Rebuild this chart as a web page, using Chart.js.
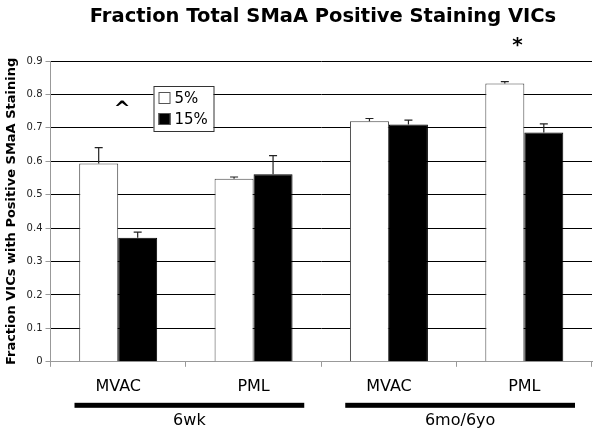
<!DOCTYPE html>
<html>
<head>
<meta charset="utf-8">
<script src="https://cdn.jsdelivr.net/npm/chart.js@4/dist/chart.umd.min.js"></script>
<style>
  html, body { margin: 0; padding: 0; background: #fff; }
  #wrap { width: 600px; height: 437px; }
</style>
</head>
<body>
<div id="wrap"><canvas id="myChart" width="600" height="437"></canvas></div>
<script>
// data
var categories = ['MVAC', 'PML', 'MVAC', 'PML'];
var low = [0.593, 0.548, 0.720, 0.833];      // 5%
var lowErr = [0.048, 0.005, 0.008, 0.005];
var high = [0.371, 0.561, 0.710, 0.686];     // 15%
var highErr = [0.017, 0.056, 0.013, 0.026];
var seriesNames = ['5%', '15%'];
var yTicks = [0, 0.1, 0.2, 0.3, 0.4, 0.5, 0.6, 0.7, 0.8, 0.9];
var groups = [
    { label: '6wk', from: 0, to: 1 },
    { label: '6mo/6yo', from: 2, to: 3 }
];
var marks = [
    { cat: 0.03, value: 0.755, text: '^' },
    { cat: 2.95, value: 0.945, text: '*' }
];
var chartTitle = 'Fraction Total SMaA Positive Staining VICs';
var yTitle = 'Fraction VICs with Positive SMaA Staining';

var FONT = '"DejaVu Sans", Verdana, sans-serif';

// error bars, legend, title, group bars underneath
var extras = {
    id: 'extras',
    afterDatasetsDraw: function(chart) {
        var ctx = chart.ctx;
        var y = chart.scales.y;
        var x = chart.scales.x;
        var area = chart.chartArea;
        var errs = [lowErr, highErr];

        ctx.save();
        // error bars (up only)
        ctx.strokeStyle = '#222';
        ctx.lineWidth = 1.2;
        chart.data.datasets.forEach(function(ds, d) {
            var meta = chart.getDatasetMeta(d);
            meta.data.forEach(function(bar, i) {
                var top = y.getPixelForValue(ds.data[i] + errs[d][i]);
                ctx.beginPath();
                ctx.moveTo(bar.x, bar.y);
                ctx.lineTo(bar.x, top);
                ctx.moveTo(bar.x - 4, top);
                ctx.lineTo(bar.x + 4, top);
                ctx.stroke();
            });
        });

        // legend box
        var lx = area.left + 103, ly = area.top + 25;
        ctx.fillStyle = '#fff';
        ctx.fillRect(lx, ly, 60, 45);
        ctx.strokeStyle = '#333';
        ctx.lineWidth = 1;
        ctx.strokeRect(lx + 0.5, ly + 0.5, 60, 45);
        ctx.font = '15px ' + FONT;
        ctx.textBaseline = 'middle';
        ctx.textAlign = 'left';
        chart.data.datasets.forEach(function(ds, d) {
            var cy = ly + 12 + d * 21;
            ctx.fillStyle = ds.backgroundColor;
            ctx.fillRect(lx + 5, cy - 6, 12, 12);
            ctx.strokeStyle = '#555';
            ctx.strokeRect(lx + 5.5, cy - 5.5, 11, 11);
            ctx.fillStyle = '#000';
            ctx.fillText(ds.label, lx + 21, cy + 1);
        });

        // significance marks
        ctx.font = 'bold 20px ' + FONT;
        ctx.textAlign = 'center';
        marks.forEach(function(m) {
            ctx.fillText(m.text, x.getPixelForValue(m.cat), y.getPixelForValue(m.value));
        });

        // title
        ctx.font = 'bold 19.5px ' + FONT;
        ctx.fillText(chartTitle, 323, 17);

        // group bars under the categories
        var w = (x.getPixelForValue(1) - x.getPixelForValue(0));
        groups.forEach(function(g) {
            var x0 = x.getPixelForValue(g.from) - w / 2 + 24;
            var x1 = x.getPixelForValue(g.to) + w / 2 - 17;
            ctx.fillStyle = '#000';
            ctx.fillRect(x0, area.bottom + 41, x1 - x0, 5);
            ctx.font = '16px ' + FONT;
            ctx.fillText(g.label, (x0 + x1) / 2, area.bottom + 59);
        });
        ctx.restore();
    }
};

var ctx = document.getElementById('myChart').getContext('2d');
var chart = new Chart(ctx, {
    type: 'bar',
    data: {
        labels: categories,
        datasets: [{
            label: seriesNames[0],
            data: low,
            backgroundColor: '#ffffff',
            borderColor: '#444',
            borderWidth: 1
        }, {
            label: seriesNames[1],
            data: high,
            backgroundColor: '#000000',
            borderColor: '#000',
            borderWidth: 1
        }]
    },
    options: {
        responsive: false,
        animation: false,
        layout: { padding: { top: 61, right: 8, bottom: 31, left: 0 } },
        categoryPercentage: 0.576,
        barPercentage: 1,
        plugins: {
            legend: { display: false },
            title: { display: false },
            tooltip: { enabled: false }
        },
        scales: {
            x: {
                grid: { offset: true, drawOnChartArea: false, color: '#999', tickLength: 5 },
                border: { color: '#999' },
                ticks: { color: '#000', font: { family: FONT, size: 16 }, padding: 10 }
            },
            y: {
                min: 0,
                max: 0.9,
                afterBuildTicks: function(axis) {
                    axis.ticks = yTicks.map(function(v) { return { value: v }; });
                },
                grid: {
                    color: function(c) { return c.tick && c.tick.value === 0 ? '#999' : '#000'; },
                    tickColor: '#999',
                    tickLength: 5
                },
                border: { color: '#999' },
                ticks: {
                    color: '#222',
                    font: { family: FONT, size: 10 },
                    padding: 3,
                    callback: function(v) { return String(Math.round(v * 10) / 10); }
                },
                title: {
                    display: true,
                    text: yTitle,
                    color: '#000',
                    font: { family: FONT, size: 13, weight: 'bold' },
                    padding: { top: 4, bottom: 4 }
                }
            }
        }
    },
    plugins: [extras]
});
</script>
</body>
</html>
